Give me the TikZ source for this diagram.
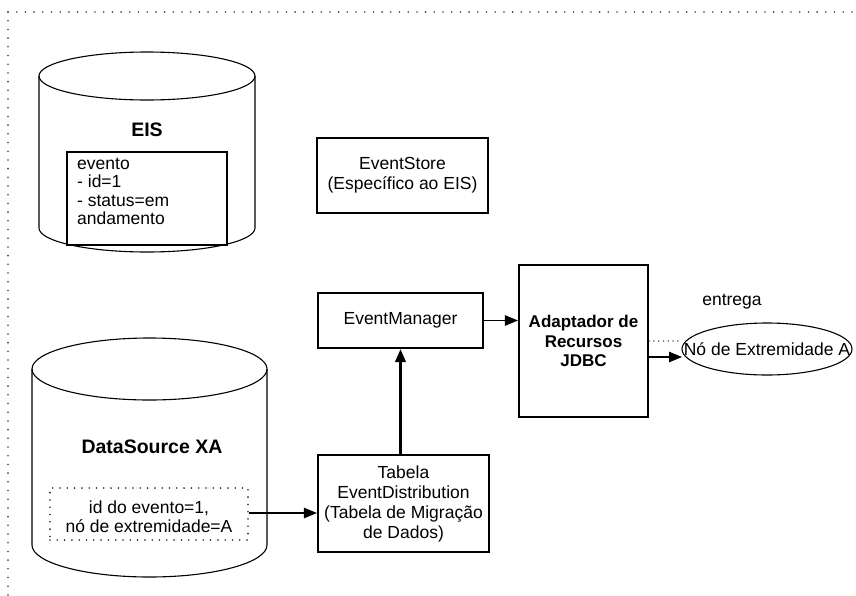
\documentclass[tikz,border=0pt]{standalone}
\usepackage{fontspec}
\setmainfont{Liberation Sans}
\usetikzlibrary{arrows.meta,calc,shapes.geometric}
\begin{document}
\begin{tikzpicture}[x=1pt,y=-1pt,
  font=\fontsize{17.5}{20}\selectfont,
  box/.style={draw, line width=2.2pt, inner sep=0pt, align=center},
  cyl/.style={draw, line width=1.1pt},
  flow/.style={line width=1.1pt, -{Triangle[length=13pt,width=10.5pt]}},
  flowthick/.style={line width=2.4pt, -{Triangle[length=13pt,width=10.5pt]}},
  dotline/.style={line width=1.8pt, line cap=round, dash pattern=on 0pt off 8.7pt, black!75},
  dotbox/.style={draw, line width=1.8pt, line cap=round, dash pattern=on 0pt off 7.3pt, black!85},
]
\useasboundingbox (0,0) rectangle (856,595);

% outer frame: dotted top and left edges
\draw[dotline] (8,12) -- (856,12);
\draw[dotline] (8,12) -- (8,595);

% EIS store
\draw[cyl] (39,76) -- (39,228) arc[start angle=180,end angle=0,x radius=108,y radius=24] -- (255,76);
\draw[cyl] (147,76) ellipse[x radius=108,y radius=24];
\node[font=\fontsize{19.5}{22}\selectfont\bfseries] (eis) at (147,130) {EIS};
\node[draw, line width=2.2pt, minimum width=160pt, minimum height=93pt, inner sep=0pt] (evt) at (147,198.5) {};
\node[anchor=north west, align=left, inner sep=0pt, font=\fontsize{17.5}{18.5}\selectfont] (evttxt) at (77,157.5)
  {evento\\- id=1\\- status=em\\andamento};

% DataSource XA store
\draw[cyl] (32,369) -- (32,545) arc[start angle=180,end angle=0,x radius=117.5,y radius=32] -- (267,369);
\draw[cyl] (149.5,369) ellipse[x radius=117.5,y radius=31];
\node[font=\fontsize{19.5}{22}\selectfont\bfseries] (ds) at (152,447) {DataSource XA};
\node[dotbox, minimum width=198pt, minimum height=52pt, inner sep=0pt] (rec) at (149,514) {};
\node[align=center, inner sep=0pt, font=\fontsize{17.5}{19}\selectfont] (rectxt) at (149,517) {id do evento=1,\\nó de extremidade=A};

% processing boxes
\node[box, minimum width=171pt, minimum height=75pt] (store) at (402.5,175.5) {EventStore\\(Específico ao EIS)};
\node[box, minimum width=165pt, minimum height=55pt] (mgr) at (400.5,320.5) {EventManager};
\node[box, minimum width=171pt, minimum height=97pt] (tab) at (403.5,503.5)
  {Tabela\\EventDistribution\\(Tabela de Migração\\de Dados)};
\node[box, minimum width=129pt, minimum height=152pt, font=\fontsize{17}{19.5}\selectfont\bfseries] (jdbc) at (583.5,341)
  {Adaptador de\\Recursos\\JDBC};

% edge node: outline and its label
\node[draw, line width=1.1pt, ellipse, minimum width=170pt, minimum height=52pt, inner sep=0pt, outer sep=0pt] (node) at (767,349) {};
\node[inner sep=0pt] (nodetxt) at (node.center) {Nó de Extremidade A};
\node (deliv) at (732,302) {entrega};

% connectors
\draw[flow] (rec.east |- 0,513) -- (tab.west |- 0,513);
\draw[flowthick] (tab.north -| mgr.south) -- (mgr.south);
\draw[flow] (mgr.east) -- (mgr.east -| jdbc.west);
\draw[flow] (jdbc.east |- 0,357) -- (node.west |- 0,357);
\draw[line width=1.5pt, line cap=round, dash pattern=on 0pt off 4.8pt, black!85] (jdbc.east |- 0,341) -- ($(node.west |- 0,341)+(-1,0)$);
\end{tikzpicture}
\end{document}
